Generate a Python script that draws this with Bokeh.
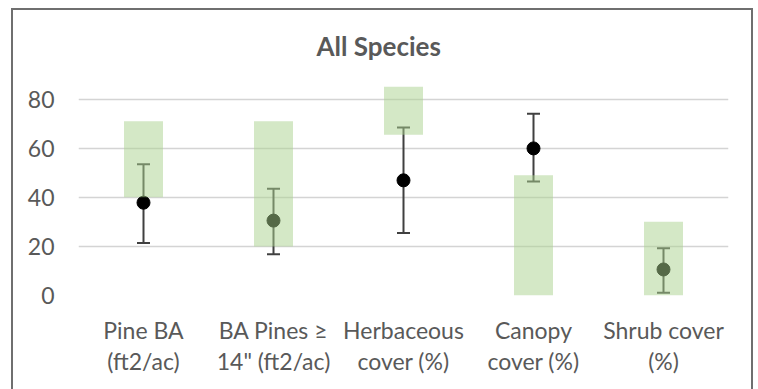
from bokeh.plotting import figure
from bokeh.models import FactorRange, Range1d, FixedTicker, ColumnDataSource
from bokeh.embed import file_html
from bokeh.resources import INLINE

categories = ["Pine BA\n(ft2/ac)", "BA Pines \u2265\n14\" (ft2/ac)", "Herbaceous\ncover (%)",
              "Canopy\ncover (%)", "Shrub cover\n(%)"]
range_low = [40, 20, 65.5, 0, 0]
range_high = [71, 71, 85, 49, 30]
means = [37.8, 30.5, 46.9, 59.9, 10.6]
err_low = [21.4, 16.8, 25.5, 46.4, 1.1]
err_high = [53.5, 43.5, 68.4, 74.0, 19.2]
y_ticks = [0, 20, 40, 60, 80]

src = ColumnDataSource(dict(cat=categories, lo=range_low, hi=range_high, m=means,
                            el=err_low, eh=err_high))

p = figure(x_range=FactorRange(*categories), y_range=Range1d(0, 90),
           title="All Species",
           width=738, height=379, output_backend="svg", toolbar_location=None,
           min_border_left=65, min_border_right=27, min_border_top=64, min_border_bottom=96)
p.styles = {"box-sizing": "content-box", "margin-left": "11px", "margin-top": "8px",
            "border-left": "2px solid #6f6f6f", "border-top": "2px solid #6f6f6f",
            "border-right": "2px solid #6f6f6f"}
p.outline_line_color = None
p.background_fill_color = "white"
p.border_fill_color = "white"

p.title.align = "left"
p.title.offset = 238
p.title.standoff = 25
p.title.text_font = "Lato"
p.title.text_font_style = "bold"
p.title.text_font_size = "26px"
p.title.text_color = "#595959"

# error bars and points (under the translucent bars)
p.segment(x0="cat", y0="el", x1="cat", y1="eh", source=src, line_color="#404040", line_width=2)
p.scatter(x="cat", y="el", source=src, marker="dash", size=13, line_color="#404040", line_width=2)
p.scatter(x="cat", y="eh", source=src, marker="dash", size=13, line_color="#404040", line_width=2)
p.scatter(x="cat", y="m", source=src, marker="circle", size=13, fill_color="black", line_color="black")

# desired ranges
p.vbar(x="cat", bottom="lo", top="hi", width=0.3, source=src, fill_color="#A9D18E",
       fill_alpha=0.5, line_color=None)

# axes
p.yaxis.ticker = FixedTicker(ticks=y_ticks)
p.yaxis.axis_line_color = None
p.yaxis.major_tick_line_color = None
p.yaxis.minor_tick_line_color = None
p.yaxis.major_label_standoff = 18
p.yaxis.major_label_text_font = "Lato"
p.yaxis.major_label_text_font_size = "23px"
p.yaxis.major_label_text_color = "#595959"

p.xaxis.axis_line_color = None
p.xaxis.major_tick_line_color = None
p.xaxis.major_label_standoff = 14
p.xaxis.major_label_text_font = "Lato"
p.xaxis.major_label_text_font_size = "23px"
p.xaxis.major_label_text_color = "#595959"
p.xaxis.major_label_text_line_height = 1.12

p.xgrid.grid_line_color = None
p.ygrid.grid_line_color = "#d4d4d4"
p.ygrid.grid_line_width = 1.5

open("out.html", "w").write(file_html(p, INLINE))
